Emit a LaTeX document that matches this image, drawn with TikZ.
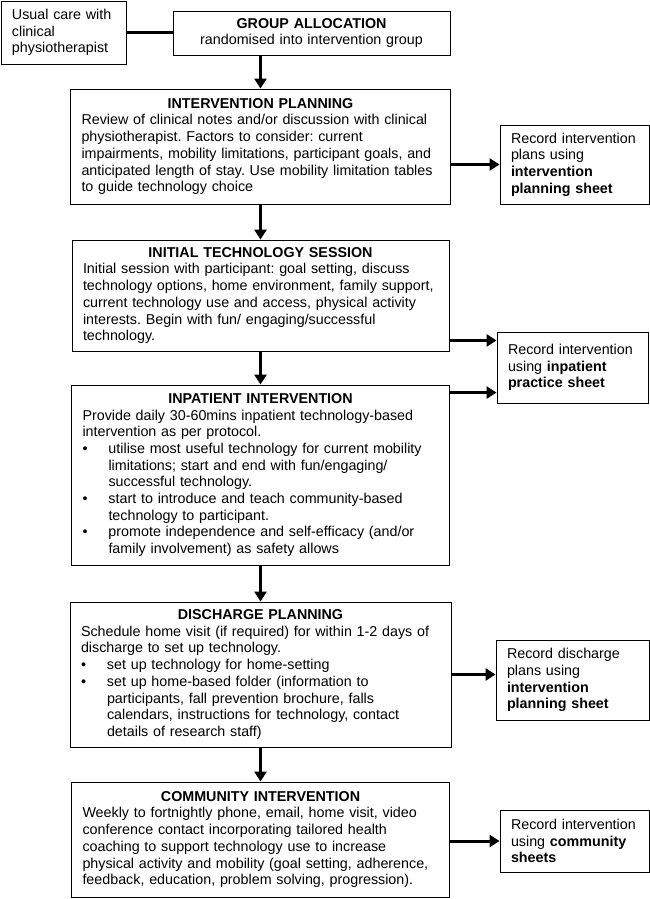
\documentclass[tikz,border=0pt]{standalone}
\usepackage{fontspec}
\setmainfont{Liberation Sans}
\usetikzlibrary{arrows.meta}
\frenchspacing

\newcommand{\boxtitle}[1]{{\centering\bfseries #1\par}}
\newcommand{\bpoint}{\par\hangindent=26pt\hangafter=1\noindent\makebox[26pt][l]{\textbullet}}

\begin{document}
\begin{tikzpicture}
  [x=1pt,y=-1pt,
   every node/.style={font=\fontsize{14.3}{16.7}\selectfont},
   box/.style={draw,line width=0.9pt,inner xsep=11pt,inner ysep=0pt,align=left},
   arr/.style={line width=3pt,-{Triangle[length=10pt,width=12pt]}}]
  \useasboundingbox (0,0) rectangle (650,899);

  \node [box,text width=103pt,minimum height=63pt] (usual) at (63.5,32.5)
    {Usual care with\\clinical\\physiotherapist};
  \node [box,text width=255pt,minimum height=44pt,align=center] (grp) at (311.5,33)
    {\textbf{GROUP ALLOCATION}\\randomised into intervention group};
  \node [box,text width=358pt,minimum height=115pt] (plan) at (260.5,146.5)
    {\boxtitle{INTERVENTION PLANNING}
     Review of clinical notes and/or discussion with clinical\\
     physiotherapist. Factors to consider: current\\
     impairments, mobility limitations, participant goals, and\\
     anticipated length of stay. Use mobility limitation tables\\
     to guide technology choice};
  \node [box,text width=127pt,minimum height=79pt] (rec1) at (574.5,164.5)
    {Record intervention\\plans using\\\textbf{intervention}\\\textbf{planning sheet}};
  \node [box,text width=355pt,minimum height=111pt] (init) at (260.5,295.5)
    {\boxtitle{INITIAL TECHNOLOGY SESSION}
     Initial session with participant: goal setting, discuss\\
     technology options, home environment, family support,\\
     current technology use and access, physical activity\\
     interests. Begin with fun/ engaging/successful\\
     technology.};
  \node [box,text width=129pt,minimum height=71pt] (rec2) at (572.5,367.5)
    {Record intervention\\using \textbf{inpatient}\\\textbf{practice sheet}};
  \node [box,text width=356pt,minimum height=180pt] (inpat) at (260.5,475)
    {\boxtitle{INPATIENT INTERVENTION}
     Provide daily 30-60mins inpatient technology-based\\
     intervention as per protocol.
     \bpoint utilise most useful technology for current mobility\newline
       limitations; start and end with fun/engaging/\newline
       successful technology.
     \bpoint start to introduce and teach community-based\newline
       technology to participant.
     \bpoint promote independence and self-efficacy (and/or\newline
       family involvement) as safety allows\par};
  \node [box,text width=359pt,minimum height=145pt] (disch) at (260.5,674.5)
    {\boxtitle{DISCHARGE PLANNING}
     Schedule home visit (if required) for within 1-2 days of\\
     discharge to set up technology.
     \bpoint set up technology for home-setting
     \bpoint set up home-based folder (information to\newline
       participants, fall prevention brochure, falls\newline
       calendars, instructions for technology, contact\newline
       details of research staff)\par};
  \node [box,text width=131pt,minimum height=80pt] (rec3) at (572.5,680)
    {Record discharge\\plans using\\\textbf{intervention}\\\textbf{planning sheet}};
  \node [box,text width=356pt,minimum height=115pt] (comm) at (260.5,839.5)
    {\boxtitle{COMMUNITY INTERVENTION}
     Weekly to fortnightly phone, email, home visit, video\\
     conference contact incorporating tailored health\\
     coaching to support technology use to increase\\
     physical activity and mobility (goal setting, adherence,\\
     feedback, education, problem solving, progression).};
  \node [box,text width=127pt,minimum height=62pt] (rec4) at (574.5,841)
    {Record intervention\\using \textbf{community}\\\textbf{sheets}};

  \coordinate (a1) at ([yshift=11pt]init.south east);
  \coordinate (a2) at ([yshift=-8pt]inpat.north east);

  \draw [line width=3pt] (usual.east) -- (usual.east -| grp.west);
  \draw [arr] (grp.south -| plan.north) -- (plan.north);
  \foreach \from/\to in {plan/init,init/inpat,inpat/disch,disch/comm}
    \draw [arr] (\from) -- (\to);

  \draw [arr] (rec1.west -| plan.east) -- (rec1.west);
  \draw [arr] (a1) -- (a1 -| rec2.west);
  \draw [arr] (a2) -- (a2 -| rec2.west);
  \draw [arr] (disch.east) -- (disch.east -| rec3.west);
  \draw [arr] (rec4.west -| comm.east) -- (rec4.west);

\end{tikzpicture}
\end{document}
